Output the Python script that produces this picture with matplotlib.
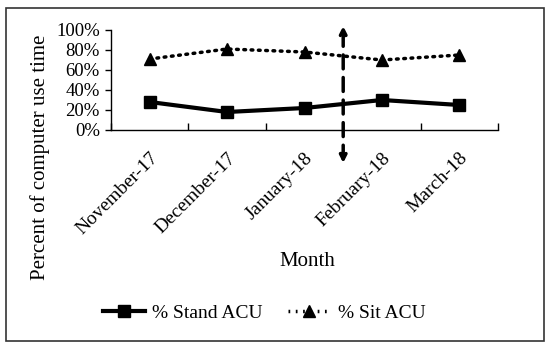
import matplotlib.pyplot as plt
from matplotlib.patches import Rectangle
from matplotlib.lines import Line2D

months = ['November-17', 'December-17', 'January-18', 'February-18', 'March-18']
stand = [28, 18, 22, 30, 25]
sit = [71, 81, 78, 70, 75]

plt.rcParams['font.family'] = 'Liberation Serif'
fig = plt.figure(figsize=(5.5, 3.49), dpi=100)
ax = fig.add_axes([111/550, 1-130/349, 387/550, 100/349])

x = range(len(months))
ax.plot(x, stand, color='black', lw=3, marker='s', ms=9, label='% Stand ACU')
ax.plot(x, sit, color='black', lw=2.5, ls=(0, (0.5, 1.6)), dash_capstyle='round',
        marker='^', ms=8, label='% Sit ACU')

ax.set_xlim(-0.5, len(months) - 0.5)
ax.set_ylim(0, 100)
ax.set_yticks(range(0, 101, 20))
ax.set_yticklabels(['%d%%' % v for v in range(0, 101, 20)], fontsize=13.5)
ax.set_xticks(x)
ax.set_xticklabels(months, rotation=45, ha='right', rotation_mode='anchor', fontsize=14)
ax.tick_params(axis='x', length=0, pad=14)
ax.set_xticks([i + 0.5 for i in range(-1, len(months))], minor=True)
ax.tick_params(axis='x', which='minor', direction='in', length=5, width=1)
ax.tick_params(axis='y', direction='out', length=4, width=1, pad=4)
for s in ['top', 'right']:
    ax.spines[s].set_visible(False)
ax.spines['left'].set_linewidth(1)
ax.spines['bottom'].set_linewidth(1)

# dashed double arrow between January and February
ax.annotate('', xy=(2.5, 104), xytext=(2.5, -33), annotation_clip=False,
            arrowprops=dict(arrowstyle='<|-|>', color='black', lw=2.5, ls=(0, (4, 2.5)),
                            mutation_scale=10, shrinkA=0, shrinkB=0))

fig.text(40/550, 1-157/349, 'Percent of computer use time', rotation=90,
         ha='center', va='center', fontsize=15)
fig.text(307/550, 1-261/349, 'Month', ha='center', va='center', fontsize=15)

handles = [Line2D([], [], color='black', lw=3, marker='s', ms=9),
           Line2D([], [], color='black', lw=2.5, ls=(0, (0.5, 1.6)), marker='^', ms=8)]
fig.legend(handles, ['% Stand ACU', '% Sit ACU'], loc='center', ncol=2,
           bbox_to_anchor=(264/550, 1-313/349), frameon=False, fontsize=14,
           handlelength=2.2, columnspacing=1.3, handletextpad=0.35)

fig.patches.append(Rectangle((6/550, 1-341/349), 538/550, 333/349, transform=fig.transFigure,
                             fill=False, edgecolor='#333333', lw=1.2))

fig.savefig('out.png', dpi=100)
